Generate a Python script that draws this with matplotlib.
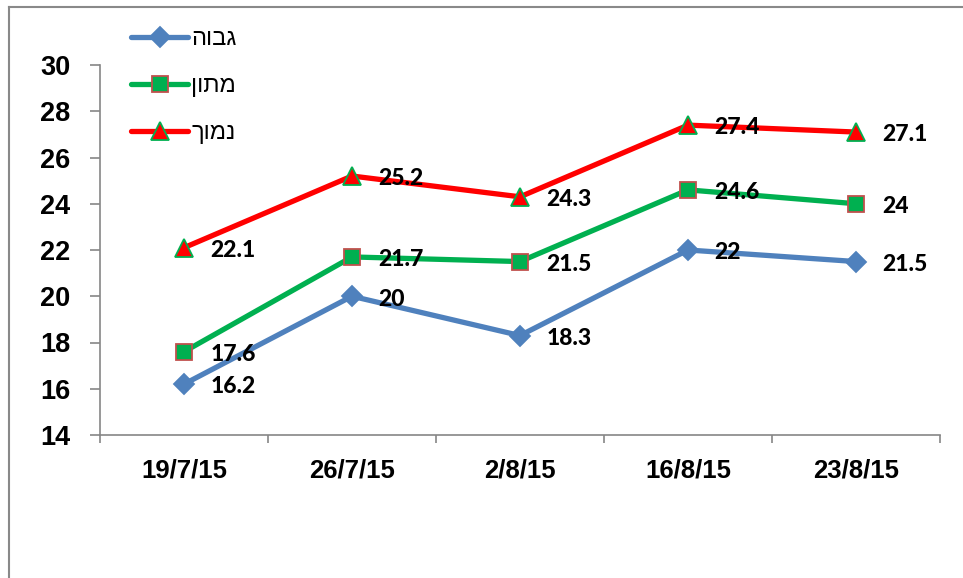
import matplotlib
matplotlib.use("Agg")
import matplotlib.pyplot as plt
from matplotlib.lines import Line2D

dates = ["19/7/15", "26/7/15", "2/8/15", "16/8/15", "23/8/15"]
series_names = ["גבוה", "מתון", "נמוך"]
high = [16.2, 20, 18.3, 22, 21.5]
moderate = [17.6, 21.7, 21.5, 24.6, 24]
low = [22.1, 25.2, 24.3, 27.4, 27.1]

styles = [
    dict(color="#4F81BD", marker="D", mfc="#4F81BD", mec="#4F81BD", ms=10),
    dict(color="#00B050", marker="s", mfc="#00B050", mec="#C0504D", ms=12),
    dict(color="#FF0000", marker="^", mfc="#FF0000", mec="#00B050", ms=13),
]

fig = plt.figure(figsize=(9.63, 5.78), dpi=100)
ax = fig.add_axes([100 / 963, 1 - 435 / 578, 840 / 963, 370 / 578])

x = list(range(len(dates)))
handles = []
for name, vals, st in zip(series_names, [high, moderate, low], styles):
    h, = ax.plot(x, vals, lw=3.8, color=st["color"], marker=st["marker"],
                 markerfacecolor=st["mfc"], markeredgecolor=st["mec"],
                 markersize=st["ms"], markeredgewidth=1.3, solid_capstyle="round",
                 label=name[::-1], zorder=3)
    handles.append(h)
    for xi, v in zip(x, vals):
        ax.annotate(f"{v:g}", (xi, v), xytext=(19, -2), textcoords="offset points",
                    ha="left", va="center", fontsize=16.5, fontweight="black",
                    family=["Lato", "DejaVu Sans"], color="black", zorder=4)

ax.set_xlim(-0.5, 4.5)
ax.set_ylim(14, 30)
ax.set_yticks(range(14, 31, 2))
ax.set_xticks([i - 0.5 for i in range(6)])
ax.set_xticklabels([])
ax.set_xticks(x, minor=True)
ax.set_xticklabels(dates, minor=True)

axis_color = "#868686"
for s in ["top", "right"]:
    ax.spines[s].set_visible(False)
for s in ["left", "bottom"]:
    ax.spines[s].set_color(axis_color)
    ax.spines[s].set_linewidth(1.2)

ax.tick_params(axis="y", which="major", length=7.5, width=1.2, color=axis_color,
               pad=14, labelsize=19.5)
ax.tick_params(axis="x", which="major", length=6, width=1.2, color=axis_color)
ax.tick_params(axis="x", which="minor", length=0, pad=17, labelsize=18.5)
for lab in ax.get_yticklabels() + ax.get_xticklabels(minor=True):
    lab.set_fontweight("bold")
    lab.set_family(["Liberation Sans", "DejaVu Sans"])

leg = fig.legend(handles=handles, loc="upper left", bbox_to_anchor=(110 / 963, 1 - 7 / 578),
                 frameon=False, handlelength=2.4, handletextpad=0.15,
                 labelspacing=1.05, prop={"family": ["Liberation Sans", "DejaVu Sans"], "size": 17})

# outer chart frame (clipped by the picture edges)
frame_color = "#898989"
fig.add_artist(Line2D([9 / 963, 9 / 963], [0, 1 - 7 / 578], transform=fig.transFigure,
                      color=frame_color, lw=1.5))
fig.add_artist(Line2D([9 / 963, 1], [1 - 7 / 578, 1 - 7 / 578], transform=fig.transFigure,
                      color=frame_color, lw=1.5))

fig.savefig("out.png", dpi=100, facecolor="white")
